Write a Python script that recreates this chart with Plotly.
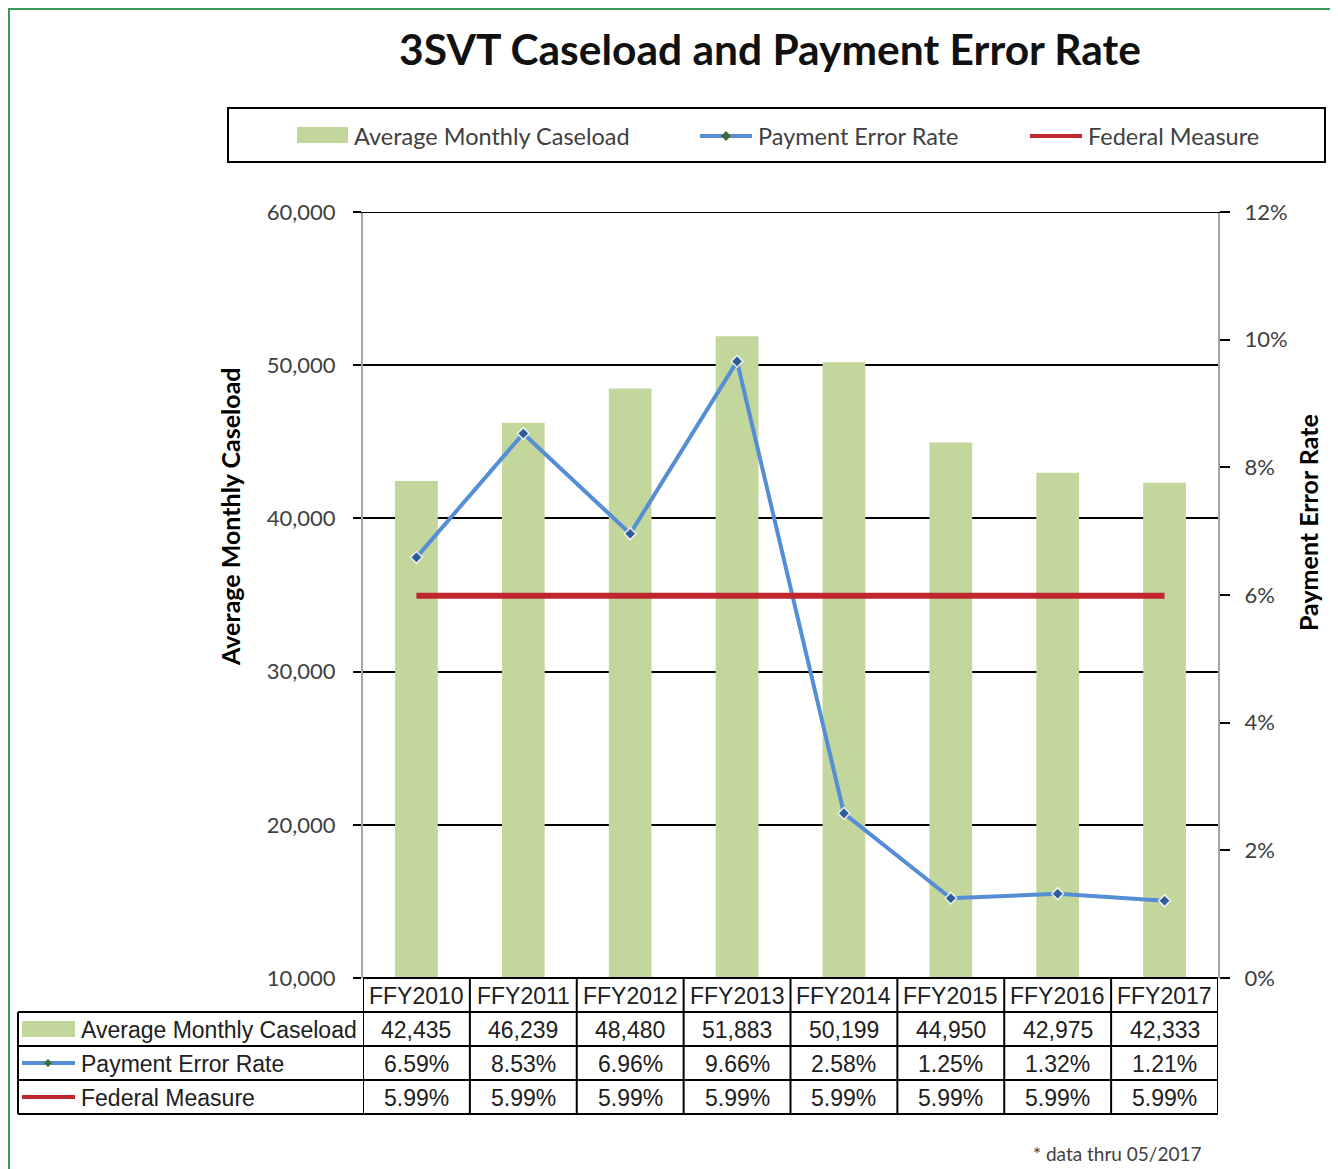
import plotly.graph_objects as go

# ---------------- data ----------------
categories = ["FFY2010", "FFY2011", "FFY2012", "FFY2013",
              "FFY2014", "FFY2015", "FFY2016", "FFY2017"]
caseload = [42435, 46239, 48480, 51883, 50199, 44950, 42975, 42333]
error_rate = [6.59, 8.53, 6.96, 9.66, 2.58, 1.25, 1.32, 1.21]          # percent
federal_measure = [5.99, 5.99, 5.99, 5.99, 5.99, 5.99, 5.99, 5.99]     # percent
caseload_ticks = [10000, 20000, 30000, 40000, 50000, 60000]
rate_ticks = [0, 2, 4, 6, 8, 10, 12]

series_names = ["Average Monthly Caseload", "Payment Error Rate", "Federal Measure"]
title_text = "3SVT Caseload and Payment Error Rate"
footnote_text = "* data thru 05/2017"

# ---------------- styling ----------------
OFF = 8                      # page body margin
W, H = 1338 - OFF, 1169 - OFF
def px(x): return (x - OFF) / W
def py(y): return 1 - (y - OFF) / H

BAR = "#c3d69b"
LINE = "#558ed5"
MARK = "#2e5c96"
RED = "#c0262d"
TXT = "#404040"
LAT = "Lato, 'Open Sans', sans-serif"
TAB = "'Liberation Sans', Arial, sans-serif"

PL, PR, PT, PB = 363, 1218, 212, 978   # plot area in pixels

fig = go.Figure()
fig.add_trace(go.Bar(x=categories, y=caseload, width=0.4, marker=dict(color=BAR, line=dict(width=0)),
                     name=series_names[0], yaxis="y"))
fig.add_trace(go.Scatter(x=categories, y=error_rate, mode="lines+markers", name=series_names[1],
                         line=dict(color=LINE, width=4),
                         marker=dict(symbol="diamond", size=9, color=MARK,
                                     line=dict(color="rgba(255,255,255,0.85)", width=1.5)),
                         yaxis="y2"))
fig.add_trace(go.Scatter(x=categories, y=federal_measure, mode="lines", name=series_names[2],
                         line=dict(color=RED, width=6), yaxis="y2"))

shapes = []
ann = []

# outer green frame
shapes.append(dict(type="rect", xref="paper", yref="paper", x0=px(9), x1=px(1360), y0=py(1200), y1=py(9),
                   line=dict(color="#3a9a5c", width=2), layer="below"))

# top gridline (range edge) extended across both tick marks
shapes.append(dict(type="line", xref="paper", yref="y", x0=px(355), x1=px(1228),
                   y0=caseload_ticks[-1], y1=caseload_ticks[-1], line=dict(color="black", width=2)))

# legend box
shapes.append(dict(type="rect", xref="paper", yref="paper", x0=px(228), x1=px(1325), y0=py(162), y1=py(108),
                   line=dict(color="black", width=2)))

def key_bar(x0, x1, yc, h=16):
    shapes.append(dict(type="rect", xref="paper", yref="paper", x0=px(x0), x1=px(x1),
                       y0=py(yc + h / 2), y1=py(yc - h / 2), fillcolor=BAR, line=dict(width=0)))

def key_line(x0, x1, yc, color, width):
    shapes.append(dict(type="line", xref="paper", yref="paper", x0=px(x0), x1=px(x1),
                       y0=py(yc), y1=py(yc), line=dict(color=color, width=width)))

def key_diamond(xc, yc, r=5, color="#3d6b3a"):
    path = (f"M {px(xc)},{py(yc - r)} L {px(xc + r)},{py(yc)} "
            f"L {px(xc)},{py(yc + r)} L {px(xc - r)},{py(yc)} Z")
    shapes.append(dict(type="path", xref="paper", yref="paper", path=path,
                       fillcolor=color, line=dict(color=color, width=0)))

def text(x, y, s, size, family=LAT, color=TXT, xanchor="left", xref="paper", bold=False, angle=0):
    ann.append(dict(x=x, y=y, xref=xref, yref="paper", text=f"<b>{s}</b>" if bold else s,
                    showarrow=False, xanchor=xanchor, yanchor="middle", textangle=angle,
                    font=dict(family=family, size=size, color=color)))

# legend entries
key_bar(297, 348, 135)
text(px(352), py(136), series_names[0], 23.5)
key_line(700, 752, 136, LINE, 4)
key_diamond(726, 136)
text(px(756), py(136), series_names[1], 23.5)
key_line(1030, 1082, 136, RED, 4)
text(px(1086), py(136), series_names[2], 23.5)

# axis titles
text(px(230), py(517), "Average Monthly Caseload", 25, color="black", xanchor="center", bold=True, angle=-90)
text(px(1308), py(523), "Payment Error Rate", 25, color="black", xanchor="center", bold=True, angle=-90)

# ---------------- data table ----------------
row_edges = [978, 1012, 1046, 1080, 1114]
LW = 2
shapes.append(dict(type="line", xref="paper", yref="paper", x0=px(PL), x1=px(PR),
                   y0=py(978), y1=py(978), line=dict(color="black", width=LW)))
for y in row_edges[1:]:
    shapes.append(dict(type="line", xref="paper", yref="paper", x0=px(18), x1=px(PR),
                       y0=py(y), y1=py(y), line=dict(color="black", width=LW)))
shapes.append(dict(type="line", xref="paper", yref="paper", x0=px(18), x1=px(18),
                   y0=py(1012), y1=py(1114), line=dict(color="black", width=LW)))
for i in range(len(categories) + 1):
    shapes.append(dict(type="line", xref="x", yref="paper", x0=i - 0.5, x1=i - 0.5,
                       y0=py(978), y1=py(1114), line=dict(color="black", width=LW)))

row_mid = [(row_edges[k] + row_edges[k + 1]) / 2 for k in range(4)]
TS = 23
for c, cl, er, fm in zip(categories, caseload, error_rate, federal_measure):
    text(c, py(row_mid[0] + 1), c, TS, family=TAB, color="#202020", xanchor="center", xref="x")
    text(c, py(row_mid[1] + 1), f"{cl:,}", TS, family=TAB, color="#202020", xanchor="center", xref="x")
    text(c, py(row_mid[2] + 1), f"{er:.2f}%", TS, family=TAB, color="#202020", xanchor="center", xref="x")
    text(c, py(row_mid[3] + 1), f"{fm:.2f}%", TS, family=TAB, color="#202020", xanchor="center", xref="x")

key_bar(22, 75, row_mid[1], h=16)
key_line(22, 75, row_mid[2], LINE, 4)
key_diamond(48, row_mid[2], r=4)
key_line(22, 75, row_mid[3], RED, 4)
for k, nm in enumerate(series_names):
    text(px(79), py(row_mid[k + 1] + 1), nm, TS, family=TAB, color="#202020")

# footnote
text(px(1204), py(1153), footnote_text, 19, xanchor="right")

fig.update_layout(
    width=W, height=H, autosize=False,
    margin=dict(l=0, r=0, t=0, b=0, pad=0, autoexpand=False),
    paper_bgcolor="white", plot_bgcolor="white",
    showlegend=False,
    title=dict(text=f"<b>{title_text}</b>", x=px(770), xanchor="center", y=py(50), yanchor="middle",
               font=dict(family=LAT, size=42.5, color="#111111")),
    bargap=0.6,
    xaxis=dict(domain=[px(PL), px(PR)], type="category", range=[-0.5, len(categories) - 0.5],
               showticklabels=False, ticks="", showline=False, showgrid=False, zeroline=False),
    yaxis=dict(domain=[py(PB), py(PT)], range=[caseload_ticks[0], caseload_ticks[-1]],
               tickvals=caseload_ticks, ticktext=[f"{v:,}" for v in caseload_ticks],
               showgrid=True, gridcolor="black", gridwidth=2,
               showline=True, linecolor="#a6a6a6", linewidth=2,
               ticks="outside", ticklen=8, tickwidth=2, tickcolor="black",
               ticklabelstandoff=13,
               tickfont=dict(family=LAT, size=22, color=TXT), zeroline=False),
    yaxis2=dict(domain=[py(PB), py(PT)], overlaying="y", side="right", anchor="x",
                range=[rate_ticks[0], rate_ticks[-1]], tickvals=rate_ticks,
                ticktext=[f"{v}%" for v in rate_ticks],
                showgrid=False, showline=True, linecolor="#a6a6a6", linewidth=2,
                ticks="outside", ticklen=10, tickwidth=2, tickcolor="black",
                ticklabelstandoff=10,
                tickfont=dict(family=LAT, size=22, color=TXT), zeroline=False),
    shapes=shapes,
    annotations=ann,
)

fig.write_html("out.html")
